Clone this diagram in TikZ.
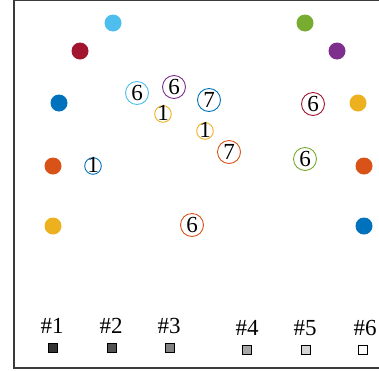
\documentclass[tikz,border=0pt]{standalone}
\usepackage{fontspec}
\setmainfont{Liberation Serif}
\definecolor{mlightblue}{HTML}{4DBEEE}
\definecolor{mdarkred}{HTML}{A2142F}
\definecolor{mblue}{HTML}{0072BD}
\definecolor{morange}{HTML}{D95319}
\definecolor{myellow}{HTML}{EDB120}
\definecolor{mgreen}{HTML}{77AC30}
\definecolor{mpurple}{HTML}{7E2F8E}
\definecolor{framegray}{HTML}{3A3A3A}
\tikzset{
  dotnode/.style={circle,inner sep=0pt,minimum size=17pt,fill=#1},
  bignum/.style={circle,draw=#1,line width=0.9pt,inner sep=0pt,minimum size=23pt,font=\fontsize{23}{23}\selectfont},
  smallnum/.style={circle,draw=#1,line width=0.9pt,inner sep=0pt,minimum size=16pt,text height=12pt,font=\fontsize{23}{23}\selectfont},
  lbl/.style={font=\fontsize{23}{23}\selectfont,inner sep=0pt},
  sq/.style={draw=black,line width=0.6pt,minimum size=9pt,inner sep=0pt,fill=#1},
  frameline/.style={draw=framegray,line width=1.4pt}
}
\begin{document}
\begin{tikzpicture}[x=1pt,y=-1pt]
\useasboundingbox (0,0) rectangle (379,370);
\coordinate (ftr) at (379,0.7);
\coordinate (ftl) at (14,0.7);
\coordinate (fbl) at (14,368);
\coordinate (fbr) at (379,368);
\draw[frameline] (ftr) -- (ftl) -- (fbl) -- (fbr);
% filled dots
\node[dotnode=mlightblue] (d1) at (113,23) {};
\node[dotnode=mdarkred] (d2) at (80,51) {};
\node[dotnode=mblue] (d3) at (59,103) {};
\node[dotnode=morange] (d4) at (53,166) {};
\node[dotnode=myellow] (d5) at (53,226) {};
\node[dotnode=mgreen] (d6) at (305,23) {};
\node[dotnode=mpurple] (d7) at (337,51) {};
\node[dotnode=myellow] (d8) at (358,103) {};
\node[dotnode=morange] (d9) at (364,166) {};
\node[dotnode=mblue] (d10) at (364,226) {};
% circled numbers
\node[bignum=mlightblue] (n1) at (137,93) {6};
\node[bignum=mpurple] (n2) at (174,87) {6};
\node[bignum=mblue] (n3) at (209,100) {7};
\node[smallnum=myellow] (n4) at (163,114) {1};
\node[smallnum=myellow] (n5) at (205,131) {1};
\node[bignum=morange] (n6) at (229,152) {7};
\node[smallnum=mblue] (n7) at (93,166) {1};
\node[bignum=mgreen] (n8) at (305,159) {6};
\node[bignum=mdarkred] (n9) at (313,104) {6};
\node[bignum=morange] (n10) at (192,225) {6};
% legend
\node[lbl] (l1) at (52,326) {\#1};
\node[lbl] (l2) at (111,326) {\#2};
\node[lbl] (l3) at (169,326) {\#3};
\node[lbl] (l4) at (247,328) {\#4};
\node[lbl] (l5) at (305,328) {\#5};
\node[lbl] (l6) at (365,328) {\#6};
\node[sq=black!80] (s1) at (53,348) {};
\node[sq=black!68] (s2) at (112,348) {};
\node[sq=black!50] (s3) at (170,348) {};
\node[sq=black!35] (s4) at (247,350) {};
\node[sq=black!17] (s5) at (306,350) {};
\node[sq=white] (s6) at (363,350) {};
\end{tikzpicture}
\end{document}
